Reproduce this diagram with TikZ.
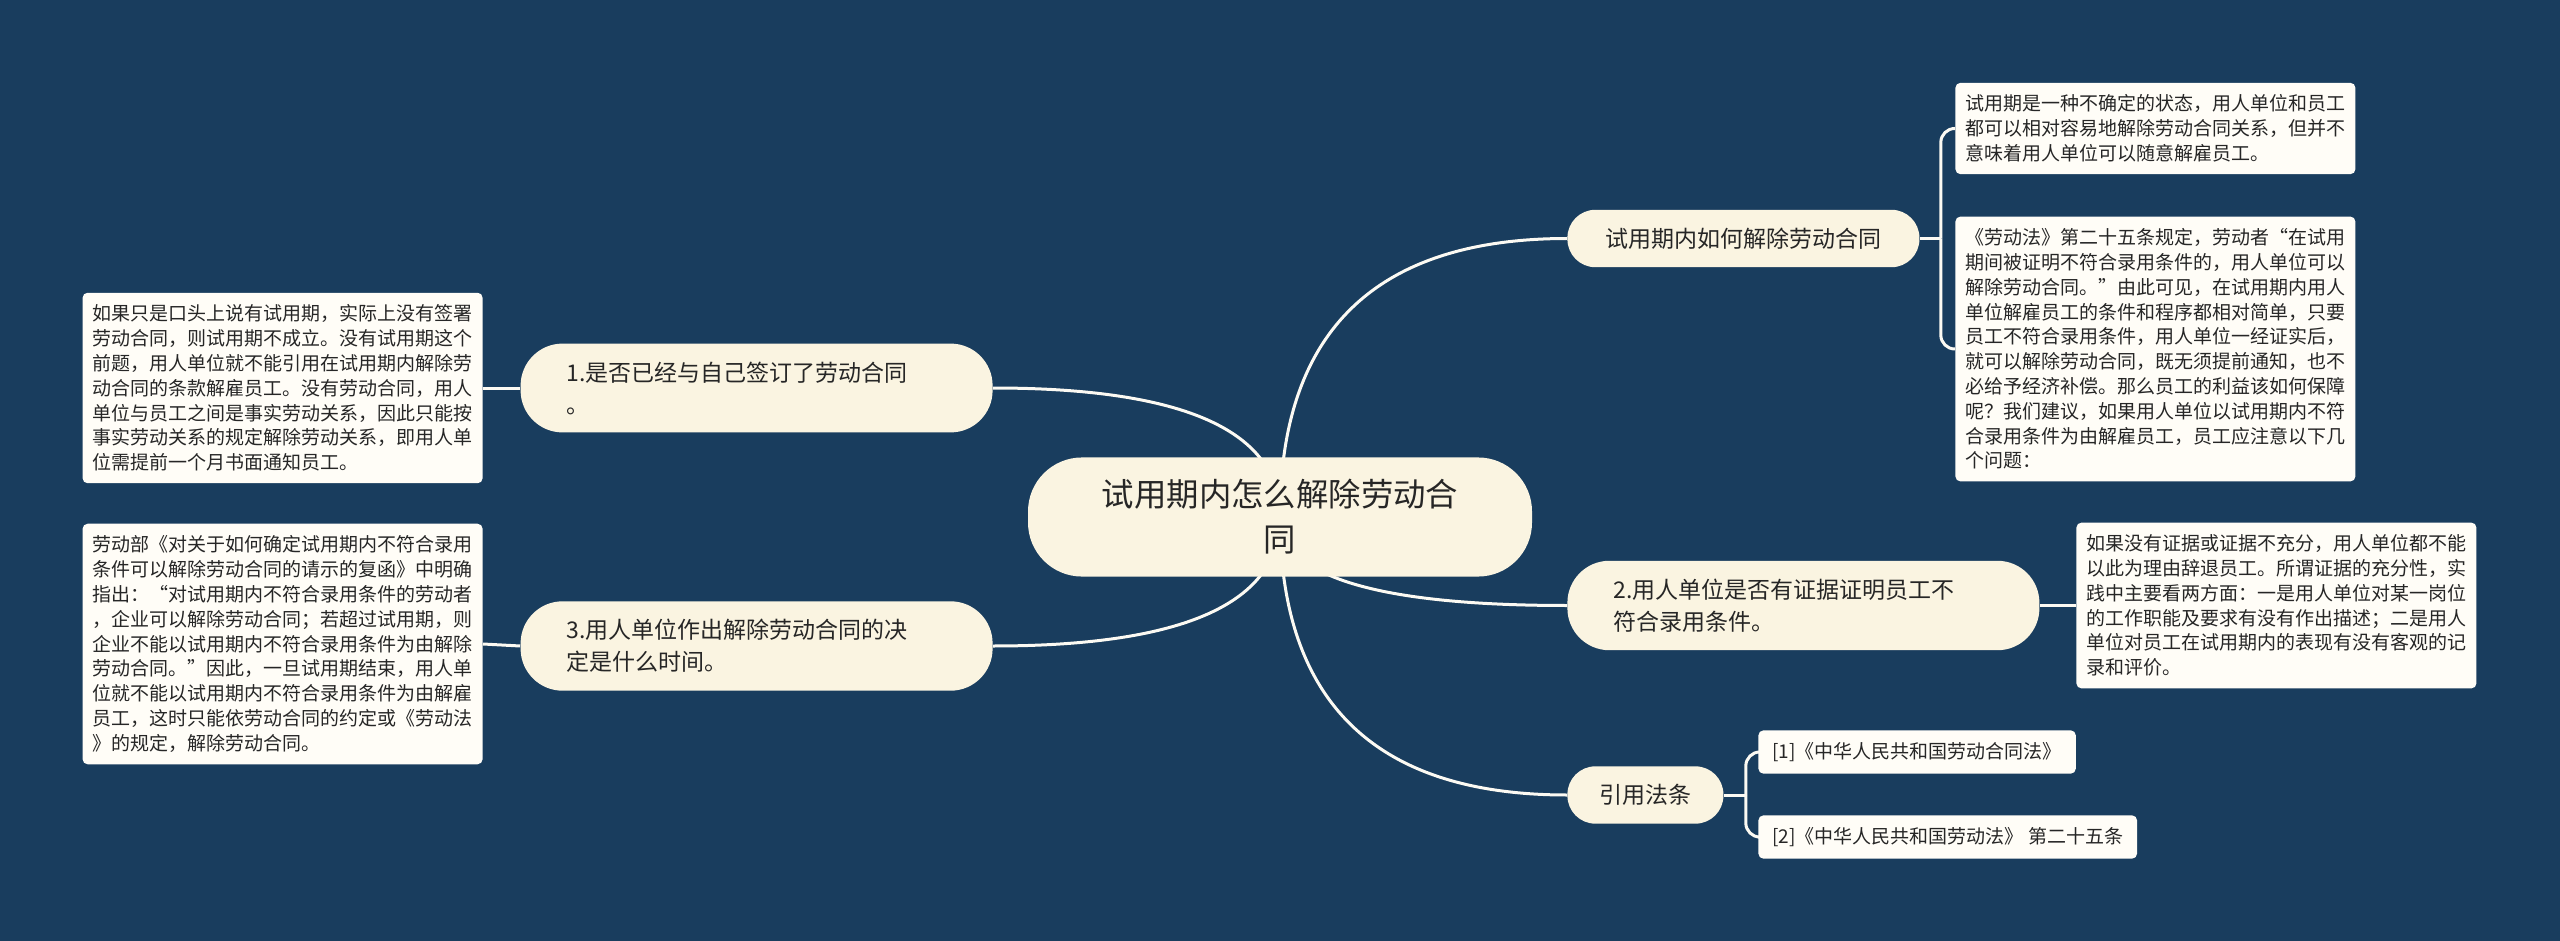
\documentclass[tikz,border=0pt]{standalone}
\usepackage{fontspec}
\setmainfont{Noto Sans CJK SC}
\usetikzlibrary{calc}
\definecolor{bgc}{RGB}{25,61,94}
\definecolor{nodec}{RGB}{250,244,225}
\definecolor{leafc}{RGB}{255,253,247}
\definecolor{linec}{RGB}{252,250,243}
\definecolor{textc}{RGB}{38,38,38}
\pgfdeclarelayer{back}
\pgfdeclarelayer{lines}
\pgfsetlayers{back,lines,main}
\newcommand{\mlink}[2]{\draw[link] (#1.center) .. controls ($(#1.center)!0.667!(#1.center |- #2)$) and ($(#2)!0.667!(#1.center |- #2)$) .. (#2);}
\begin{document}
\begin{tikzpicture}[x=0.5pt, y=-0.5pt,
  link/.style={draw=linec, line width=1.5pt},
  root/.style={fill=nodec, text=textc, rounded corners=27pt, align=center, inner ysep=11pt, minimum width=252pt, font=\fontsize{16.2}{22.5}\selectfont},
  topic/.style={fill=nodec, text=textc, rounded corners=14pt, inner xsep=16pt, inner ysep=9pt, font=\fontsize{11.5}{16}\selectfont},
  wide/.style={topic, rounded corners=21pt, text width=190pt, align=left, inner xsep=23pt},
  leaf/.style={fill=leafc, text=textc, rounded corners=2.5pt, text width=190pt, align=left, inner xsep=5pt, inner ysep=6pt, font=\fontsize{9.5}{#1}\selectfont},
  leaf/.default=12.4pt,
  ref/.style={fill=leafc, text=textc, rounded corners=2.5pt, inner xsep=7pt, inner ysep=6pt, font=\fontsize{9.5}{11}\selectfont}]
\useasboundingbox (0,0) rectangle (2560,941);
\begin{pgfonlayer}{back}
\fill[bgc] (0,0) rectangle (2560,941);
\end{pgfonlayer}
\node[root] (m) at (1280,517) {试用期内怎么解除劳动合\\同};
\node[topic, anchor=west, minimum width=176pt] (a) at (1567,238.5) {试用期内如何解除劳动合同};
\node[wide, anchor=east] (b) at (993,388) {1.是否已经与自己签订了劳动合同\\。};
\node[wide, anchor=east] (c) at (993,646) {3.用人单位作出解除劳动合同的决\\定是什么时间。};
\node[wide, anchor=west] (d) at (1567,605.5) {2.用人单位是否有证据证明员工不\\符合录用条件。};
\node[topic, anchor=west] (e) at (1567,795) {引用法条};
\node[leaf, anchor=west] (a1) at (1955,128.5) {试用期是一种不确定的状态，用人单位和员工\\都可以相对容易地解除劳动合同关系，但并不\\意味着用人单位可以随意解雇员工。};
\node[leaf, anchor=west] (a2) at (1955,349) {《劳动法》第二十五条规定，劳动者“在试用\\期间被证明不符合录用条件的，用人单位可以\\解除劳动合同。”由此可见，在试用期内用人\\单位解雇员工的条件和程序都相对简单，只要\\员工不符合录用条件，用人单位一经证实后，\\就可以解除劳动合同，既无须提前通知，也不\\必给予经济补偿。那么员工的利益该如何保障\\呢？我们建议，如果用人单位以试用期内不符\\合录用条件为由解雇员工，员工应注意以下几\\个问题：};
\node[leaf, anchor=east] (b1) at (483,388) {如果只是口头上说有试用期，实际上没有签署\\劳动合同，则试用期不成立。没有试用期这个\\前题，用人单位就不能引用在试用期内解除劳\\动合同的条款解雇员工。没有劳动合同，用人\\单位与员工之间是事实劳动关系，因此只能按\\事实劳动关系的规定解除劳动关系，即用人单\\位需提前一个月书面通知员工。};
\node[leaf, anchor=east] (c1) at (483,644) {劳动部《对关于如何确定试用期内不符合录用\\条件可以解除劳动合同的请示的复函》中明确\\指出：“对试用期内不符合录用条件的劳动者\\，企业可以解除劳动合同；若超过试用期，则\\企业不能以试用期内不符合录用条件为由解除\\劳动合同。”因此，一旦试用期结束，用人单\\位就不能以试用期内不符合录用条件为由解雇\\员工，这时只能依劳动合同的约定或《劳动法\\》的规定，解除劳动合同。};
\node[leaf, anchor=west] (d1) at (2076,605.5) {如果没有证据或证据不充分，用人单位都不能\\以此为理由辞退员工。所谓证据的充分性，实\\践中主要看两方面：一是用人单位对某一岗位\\的工作职能及要求有没有作出描述；二是用人\\单位对员工在试用期内的表现有没有客观的记\\录和评价。};
\node[ref, anchor=west] (e1) at (1758,752) {[1]《中华人民共和国劳动合同法》};
\node[ref, anchor=west] (e2) at (1758,837) {[2]《中华人民共和国劳动法》 第二十五条};
\coordinate (ak) at ([xshift=10.5pt]a.east);
\coordinate (ek) at ([xshift=11pt]e.east);
\begin{pgfonlayer}{lines}
\mlink{m}{a.west}
\mlink{m}{b.east}
\mlink{m}{c.east}
\mlink{m}{d.west}
\mlink{m}{e.west}
\draw[link] (b.west) -- (b1.east);
\draw[link] (c.west) -- (c1.east);
\draw[link] (d.east) -- (d1.west);
\draw[link] (a.east) -- (ak);
\draw[link, rounded corners=7pt] (ak) |- (a1.west);
\draw[link, rounded corners=7pt] (ak) |- (a2.west);
\draw[link] (e.east) -- (ek);
\draw[link, rounded corners=7pt] (ek) |- (e1.west);
\draw[link, rounded corners=7pt] (ek) |- (e2.west);
\end{pgfonlayer}
\end{tikzpicture}
\end{document}
